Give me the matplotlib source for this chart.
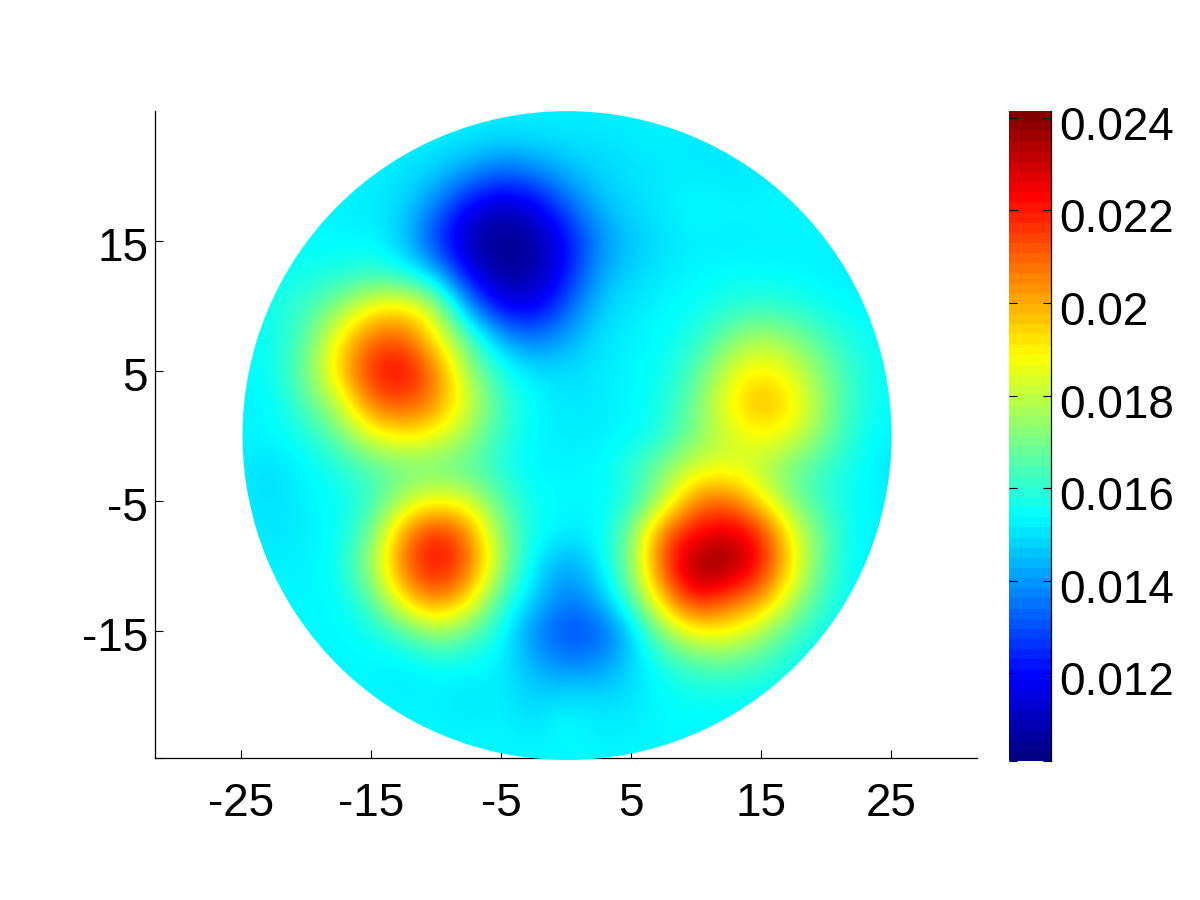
import matplotlib
matplotlib.use("Agg")
import matplotlib.pyplot as plt
from matplotlib.cm import ScalarMappable
from matplotlib.colors import LinearSegmentedColormap, Normalize
from matplotlib.patches import Circle
from matplotlib.transforms import ScaledTranslation
import numpy as np

plt.rcParams['font.family'] = ['Liberation Sans', 'DejaVu Sans']

# Field values (x 1e-4); rows y=25..-25, columns x=-25..25, step 2.5
grid_x = [-25, -22.5, -20, -17.5, -15, -12.5, -10, -7.5, -5, -2.5, 0, 2.5, 5, 7.5, 10, 12.5, 15, 17.5, 20, 22.5, 25]
grid_y = [25, 22.5, 20, 17.5, 15, 12.5, 10, 7.5, 5, 2.5, 0, -2.5, -5, -7.5, -10, -12.5, -15, -17.5, -20, -22.5, -25]
field = [
    [153,153,153,153,153,153,153,153,152,152,152,152,152,153,153,153,153,153,153,153,153],
    [153,153,153,153,153,152,151,150,148,149,150,150,151,152,150,152,153,153,153,153,153],
    [153,153,153,153,152,150,147,138,130,134,143,148,150,151,152,150,151,153,153,153,153],
    [153,153,153,152,151,149,135,116,109,114,130,144,149,151,154,153,153,153,153,153,153],
    [153,153,154,153,153,147,125,108,102,105,118,138,146,150,152,151,152,152,153,152,153],
    [153,154,156,157,160,155,144,116,104,106,120,142,148,151,153,154,154,153,152,151,153],
    [153,157,162,172,187,192,178,138,116,114,130,147,151,153,155,158,160,158,155,153,153],
    [153,156,165,190,210,212,190,165,142,134,142,150,152,154,158,170,178,172,162,156,154],
    [154,155,170,195,220,226,207,175,157,150,149,151,153,155,165,183,192,183,170,158,154],
    [152,153,165,180,210,215,205,183,163,153,151,151,153,157,170,190,201,192,172,158,154],
    [153,153,157,168,185,192,187,175,160,153,151,152,153,158,172,182,190,184,170,156,152],
    [151,149,153,157,165,168,168,165,158,152,153,153,160,172,183,185,178,168,160,155,150],
    [151,150,152,155,160,178,188,183,165,155,153,153,157,178,207,210,190,170,160,153,152],
    [152,150,152,154,168,205,222,207,172,155,152,152,170,212,224,230,220,185,165,153,152],
    [152,152,152,155,175,210,226,212,175,151,140,150,172,215,240,241,222,190,163,152,152],
    [153,153,153,153,165,195,210,195,162,148,135,143,165,200,225,212,205,178,160,153,153],
    [153,153,153,153,155,165,178,168,155,137,128,130,146,175,190,190,178,163,155,153,153],
    [153,153,153,153,153,151,155,154,152,143,136,138,148,157,165,167,162,156,153,153,153],
    [153,153,153,153,153,152,152,150,152,147,150,149,150,154,155,155,154,154,153,153,153],
    [153,153,153,153,153,153,153,152,153,150,155,151,152,153,153,153,153,153,153,153,153],
    [153,153,153,153,153,153,153,153,153,153,153,153,153,153,153,153,153,153,153,153,153],
]
field_scale = 1e-4
value_range = [0.0101, 0.02415]
disc_center = [0.08, 0.0]
disc_radius = 24.95

x_ticks = [-25, -15, -5, 5, 15, 25]
y_ticks = [-24.8, -15, -5, 5, 15]
y_labels = ['', '-15', '-5', '5', '15']
cbar_ticks = [0.0101, 0.012, 0.014, 0.016, 0.018, 0.020, 0.022, 0.024]
cbar_labels = ['', '0.012', '0.014', '0.016', '0.018', '0.02', '0.022', '0.024']

# Jet in the form the source chart uses: cyan at 3/8, yellow at 5/8
jet_segments = {
    'red':   [(0, 0, 0), (0.375, 0, 0), (0.625, 1, 1), (0.875, 1, 1), (1, 0.5, 0.5)],
    'green': [(0, 0, 0), (0.125, 0, 0), (0.375, 1, 1), (0.625, 1, 1), (0.875, 0, 0), (1, 0, 0)],
    'blue':  [(0, 0.5, 0.5), (0.125, 1, 1), (0.375, 1, 1), (0.625, 0, 0), (1, 0, 0)],
}
smooth_jet = LinearSegmentedColormap('mjet', jet_segments, N=512)
stepped_jet = LinearSegmentedColormap('mjet64', jet_segments, N=64)

W, H = 1200, 900
fig = plt.figure(figsize=(12, 9), dpi=100, facecolor='white')
ax = fig.add_axes([155/W, (H-758)/H, 822/W, 647/H])
cax = fig.add_axes([1009/W, (H-761)/H, 42/W, 650/H])

norm = Normalize(*value_range)
step = abs(grid_x[1] - grid_x[0]) / 2
im = ax.imshow(np.array(field) * field_scale, cmap=smooth_jet, norm=norm,
               extent=[grid_x[0]-step, grid_x[-1]+step, grid_y[-1]-step, grid_y[0]+step],
               origin='upper', interpolation='bicubic', interpolation_stage='data',
               aspect='auto', zorder=4)
disc = Circle(disc_center, disc_radius, transform=ax.transData, facecolor='none', edgecolor='none')
ax.add_patch(disc)

ax.set_xlim(-31.6, 31.6)
ax.set_ylim(-24.8, 24.96)
im.set_clip_box(fig.bbox)
im.set_clip_path(disc)
for s in ('top', 'right'):
    ax.spines[s].set_visible(False)
for s in ('left', 'bottom'):
    ax.spines[s].set_linewidth(0.9)
ax.set_xticks(x_ticks)
ax.set_yticks(y_ticks)
ax.set_xticklabels([str(v) for v in x_ticks])
ax.set_yticklabels(y_labels)
ax.tick_params(axis='x', direction='in', length=6, width=0.8, labelsize=33, pad=17)
ax.tick_params(axis='y', direction='in', length=6, width=0.8, labelsize=33, pad=5)
down_axis = ScaledTranslation(0, -3/100, fig.dpi_scale_trans)
down_cbar = ScaledTranslation(0, -5/100, fig.dpi_scale_trans)
for lab in ax.get_yticklabels():
    lab.set_transform(lab.get_transform() + down_axis)

cb = fig.colorbar(ScalarMappable(norm=norm, cmap=stepped_jet), cax=cax)
cb.outline.set_visible(False)
cb.set_ticks(cbar_ticks)
cb.set_ticklabels(cbar_labels)
cax.spines['right'].set_visible(True)
cax.spines['right'].set_linewidth(0.9)
cax.tick_params(axis='y', which='both', direction='in', left=True, right=True, length=6, width=0.8,
                labelsize=33, pad=6)
for lab in cax.get_yticklabels():
    lab.set_transform(lab.get_transform() + down_cbar)

fig.savefig('out.png', dpi=100, facecolor='white')
